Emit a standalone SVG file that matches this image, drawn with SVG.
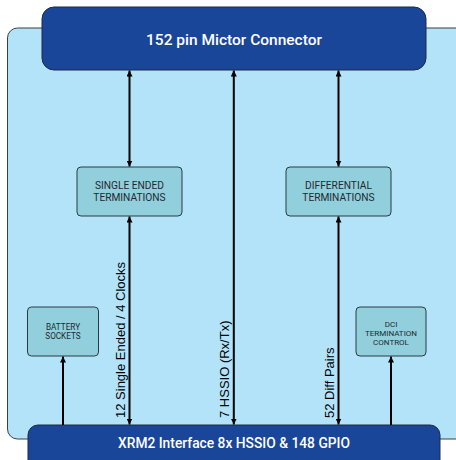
<svg xmlns="http://www.w3.org/2000/svg" width="456" height="460" viewBox="0 0 456 460">
<defs>
<marker id="ah" viewBox="0 0 10 10" refX="10" refY="5" markerWidth="3" markerHeight="3" orient="auto-start-reverse" markerUnits="strokeWidth">
<path d="M0,0 L10,5 L0,10 z" fill="#000"/>
</marker>
<style>
.bar{fill:#1a4699;stroke:#1c2a44;stroke-width:1}
.box{fill:#92cfdc;stroke:#2b3a40;stroke-width:1}
.conn line{stroke:#000;stroke-width:2}
.t{font-family:Roboto,"Liberation Sans",sans-serif;fill:#1e2a30;text-anchor:middle}
.w{font-family:Roboto,"Liberation Sans",sans-serif;fill:#fff;font-weight:500;text-anchor:middle}
.v{font-family:"Liberation Sans",Arial,sans-serif;font-size:13px;fill:#000}
</style>
</defs>
<rect id="panel" x="7.5" y="28" width="460" height="411" rx="10" fill="#b3e3f9" stroke="#3a3f44" stroke-width="1"/>
<g id="top">
<rect class="bar" x="42" y="7" width="384" height="63" rx="12"/>
<text class="w" x="234" y="44.5" font-size="15.5">152 pin Mictor Connector</text>
</g>
<g id="bottom">
<rect class="bar" x="28" y="425" width="412" height="50" rx="10"/>
<text class="w" x="234" y="448" font-size="13.8">XRM2 Interface 8x HSSIO &amp; 148 GPIO</text>
</g>
<g id="se">
<rect class="box" x="77" y="167" width="105" height="49" rx="4"/>
<text class="t" x="129.5" y="189.3" font-size="10.2">SINGLE ENDED</text>
<text class="t" x="129.5" y="201.2" font-size="10.2">TERMINATIONS</text>
</g>
<g id="diff">
<rect class="box" x="286" y="167" width="105" height="49" rx="4"/>
<text class="t" x="338.5" y="189.3" font-size="10.2">DIFFERENTIAL</text>
<text class="t" x="338.5" y="201.2" font-size="10.2">TERMINATIONS</text>
</g>
<g id="battery">
<rect class="box" x="27.5" y="307" width="71" height="49" rx="4"/>
<text class="t" x="63" y="329.5" font-size="8.2">BATTERY</text>
<text class="t" x="63" y="339" font-size="8.2">SOCKETS</text>
</g>
<g id="dci">
<rect class="box" x="356" y="307" width="70" height="49" rx="4"/>
<text class="t" x="391" y="326.5" font-size="8">DCI</text>
<text class="t" x="391" y="335.6" font-size="8">TERMINATION</text>
<text class="t" x="391" y="344.7" font-size="8">CONTROL</text>
</g>
<g id="connectors" class="conn">
<line x1="129.5" y1="70.5" x2="129.5" y2="166.5" marker-start="url(#ah)" marker-end="url(#ah)"/>
<line x1="129.5" y1="216.5" x2="129.5" y2="424.5" marker-start="url(#ah)" marker-end="url(#ah)"/>
<line x1="233.8" y1="70.5" x2="233.8" y2="424.5" marker-start="url(#ah)" marker-end="url(#ah)"/>
<line x1="338.5" y1="70.5" x2="338.5" y2="166.5" marker-start="url(#ah)" marker-end="url(#ah)"/>
<line x1="338.5" y1="216.5" x2="338.5" y2="424.5" marker-start="url(#ah)" marker-end="url(#ah)"/>
<line x1="63" y1="425" x2="63" y2="356.5" marker-end="url(#ah)"/>
<line x1="391" y1="425" x2="391" y2="356.5" marker-end="url(#ah)"/>
</g>
<g id="labels">
<text class="v" transform="translate(125,418) rotate(-90)">12 Single Ended / 4 Clocks</text>
<text class="v" transform="translate(229,418) rotate(-90)">7 HSSIO (Rx/Tx)</text>
<text class="v" transform="translate(334,418) rotate(-90)">52 Diff Pairs</text>
</g>
</svg>
